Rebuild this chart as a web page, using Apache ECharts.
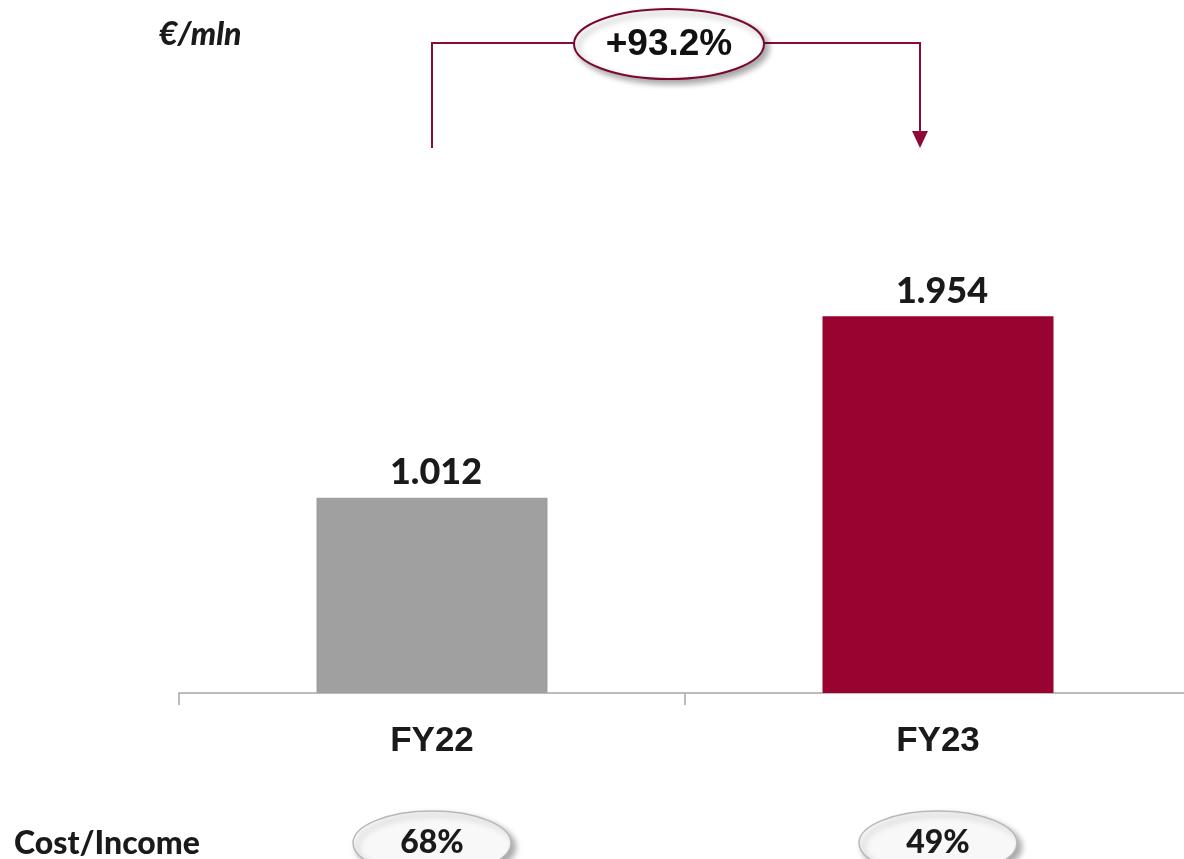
<!DOCTYPE html>
<html>
<head>
<meta charset="utf-8">
<script src="https://cdn.jsdelivr.net/npm/echarts@6/dist/echarts.min.js"></script>
<style>
  html, body { margin: 0; padding: 0; background: #fff; }
  #chart { width: 1184px; height: 859px; }
</style>
</head>
<body>
<div id="chart"></div>
<script>
const categories 	= ['FY22', 'FY23']
const values 		= [1.012, 1.954]
const valueLabels 	= ['1.012', '1.954']
const costIncome 	= ['68%', '49%']
const growthLabel 	= '+93.2%'
const unitLabel 	= '€/mln'
const rowLabel 		= 'Cost/Income'

const GREY 		= '#a0a0a0'
const CRIMSON 	= '#99032f'
const ARROW 	= '#8c0b34'

const chart = echarts.init(document.getElementById('chart'))

chart.setOption({
    animation: false,
    grid: {
        left: 179,
        top: 114.5,
        width: 1012,
        height: 578.5,
        outerBoundsMode: 'none'
    },
    xAxis: {
        type: 'category',
        data: categories,
        axisLine: { lineStyle: { color: '#a6a6a6', width: 1.5 } },
        axisTick: { show: true, length: 12, lineStyle: { color: '#a6a6a6', width: 1.5 } },
        axisLabel: {
            margin: 31,
            fontFamily: 'Liberation Sans',
            fontWeight: 'bold',
            fontSize: 35,
            color: '#1a1a1a'
        }
    },
    yAxis: {
        type: 'value',
        min: 0,
        max: 3,
        show: false,
        splitLine: { show: false }
    },
    series: [{
        type: 'bar',
        barWidth: 231,
        data: values.map((v, i) => ({
            value: v,
            itemStyle: { color: i === 0 ? GREY : CRIMSON }
        })),
        label: {
            show: true,
            position: 'top',
            distance: 7,
            offset: [4, 0],
            formatter: p => valueLabels[p.dataIndex],
            fontFamily: 'Lato',
            fontWeight: 900,
            fontSize: 36,
            color: '#1a1a1a'
        }
    }]
})

// annotations placed from the category positions
const x0 = chart.convertToPixel({ xAxisIndex: 0 }, categories[0])
const x1 = chart.convertToPixel({ xAxisIndex: 0 }, categories[1]) - 18
const lineY = 43
const bubbleX = 669, bubbleRx = 95, bubbleRy = 35
const rowY = 843

const ellipseShadow = {
    shadowBlur: 6,
    shadowOffsetX: 4,
    shadowOffsetY: 4,
    shadowColor: 'rgba(0,0,0,0.35)'
}

const graphics = [
    {
        type: 'text',
        left: 159, top: 19,
        style: {
            text: unitLabel,
            font: 'italic 900 32px Lato',
            fill: '#1a1a1a'
        }
    },
    {
        type: 'polyline',
        shape: { points: [[x0, 148], [x0, lineY], [bubbleX - bubbleRx, lineY]] },
        style: { stroke: ARROW, lineWidth: 2, fill: null }
    },
    {
        type: 'polyline',
        shape: { points: [[bubbleX + bubbleRx, lineY], [x1, lineY], [x1, 132]] },
        style: { stroke: ARROW, lineWidth: 2, fill: null }
    },
    {
        type: 'polygon',
        shape: { points: [[x1 - 8, 131], [x1 + 8, 131], [x1, 148]] },
        style: { fill: ARROW }
    },
    {
        type: 'ellipse',
        shape: { cx: bubbleX, cy: lineY + 1, rx: bubbleRx, ry: bubbleRy },
        style: Object.assign({ fill: '#fff', stroke: '#7a0a2c', lineWidth: 2 }, ellipseShadow)
    },
    {
        type: 'text',
        x: bubbleX, y: lineY + 2,
        style: {
            text: growthLabel,
            font: 'bold 37px "Liberation Sans"',
            fill: '#111',
            align: 'center',
            verticalAlign: 'middle'
        }
    },
    {
        type: 'text',
        left: 14, top: 828,
        style: {
            text: rowLabel,
            font: '900 32px Lato',
            fill: '#1a1a1a'
        }
    }
]

categories.forEach((c, i) => {
    const cx = chart.convertToPixel({ xAxisIndex: 0 }, c)
    graphics.push({
        type: 'ellipse',
        shape: { cx: cx, cy: rowY, rx: 79, ry: 32 },
        style: Object.assign({ fill: '#f8f8f8', stroke: '#b8b8b8', lineWidth: 1.5 }, ellipseShadow)
    })
    graphics.push({
        type: 'text',
        x: cx, y: rowY,
        style: {
            text: costIncome[i],
            font: '900 32px Lato',
            fill: '#1a1a1a',
            align: 'center',
            verticalAlign: 'middle'
        }
    })
})

chart.setOption({ graphic: graphics })
</script>
</body>
</html>
